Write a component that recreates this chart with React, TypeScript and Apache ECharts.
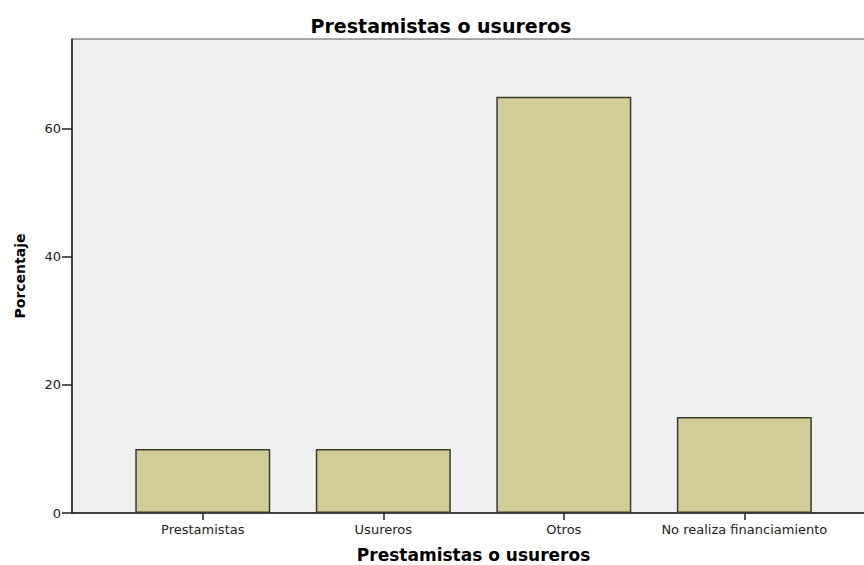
import React, { useEffect, useRef } from "react";
import * as echarts from "echarts";

const categories = ["Prestamistas", "Usureros", "Otros", "No realiza financiamiento"];
const percentages = [10, 10, 65, 15];
const yTicks = [0, 20, 40, 60];
const yMax = 74;
const chartTitle = "Prestamistas o usureros";
const xAxisName = "Prestamistas o usureros";
const yAxisName = "Porcentaje";

export default function App() {
  const ref = useRef<HTMLDivElement>(null);
  useEffect(() => {
    if (!ref.current) return;
    const chart = echarts.init(ref.current, null, { renderer: "svg" });
    const font = "DejaVu Sans";
    chart.setOption({
      animation: false,
      backgroundColor: "#ffffff",
      title: {
        text: chartTitle,
        left: 436,
        top: 11,
        textAlign: "center",
        textStyle: { fontFamily: font, fontWeight: "bold", fontSize: 19, color: "#000" },
      },
      grid: [
        {
          left: 72,
          top: 39,
          right: -3,
          bottom: 52,
          show: true,
          backgroundColor: "#f0f0f0",
          borderColor: "#555",
          borderWidth: 1,
          containLabel: false,
          outerBoundsMode: "none",
        },
        { left: 112.5, top: 39, right: 29.4, bottom: 52, containLabel: false, outerBoundsMode: "none" },
      ],
      xAxis: [
        {
          type: "value",
          gridIndex: 0,
          min: 0,
          max: 1,
          axisLine: { show: true, onZero: false, lineStyle: { color: "#222", width: 1.5 } },
          axisTick: { show: false },
          axisLabel: { show: false },
          splitLine: { show: false },
        },
        {
          type: "category",
          gridIndex: 1,
          data: categories,
          boundaryGap: true,
          axisLine: { show: false },
          axisTick: { show: true, alignWithLabel: true, interval: 0, length: 7, lineStyle: { color: "#222", width: 1.5 } },
          axisLabel: { fontFamily: font, fontSize: 13, color: "#222", margin: 10, interval: 0, hideOverlap: false },
          name: xAxisName,
          nameLocation: "middle",
          nameGap: 33,
          nameTextStyle: { fontFamily: font, fontWeight: "bold", fontSize: 17, color: "#000" },
        },
      ],
      yAxis: [
        {
          type: "value",
          gridIndex: 0,
          min: 0,
          max: yMax,
          interval: 20,
          axisLine: { show: true, lineStyle: { color: "#222", width: 1.5 } },
          axisTick: { show: true, length: 10, lineStyle: { color: "#222", width: 1.5 }, customValues: yTicks },
          axisLabel: { fontFamily: font, fontSize: 13, color: "#222", margin: 11, customValues: yTicks },
          splitLine: { show: false },
          name: yAxisName,
          nameLocation: "middle",
          nameGap: 45,
          nameTextStyle: { fontFamily: font, fontWeight: "bold", fontSize: 14, color: "#000" },
        },
        {
          type: "value",
          gridIndex: 1,
          min: 0,
          max: yMax,
          show: false,
          splitLine: { show: false },
        },
      ],
      series: [
        {
          type: "bar",
          xAxisIndex: 1,
          yAxisIndex: 1,
          data: percentages,
          barWidth: 135,
          itemStyle: { color: "#d2cd96", borderColor: "#3a3a30", borderWidth: 1.5 },
        },
      ],
    });
    return () => chart.dispose();
  }, []);
  return (
    <div
      ref={ref}
      style={{ position: "absolute", left: 0, top: 0, width: 864, height: 565 }}
    />
  );
}
